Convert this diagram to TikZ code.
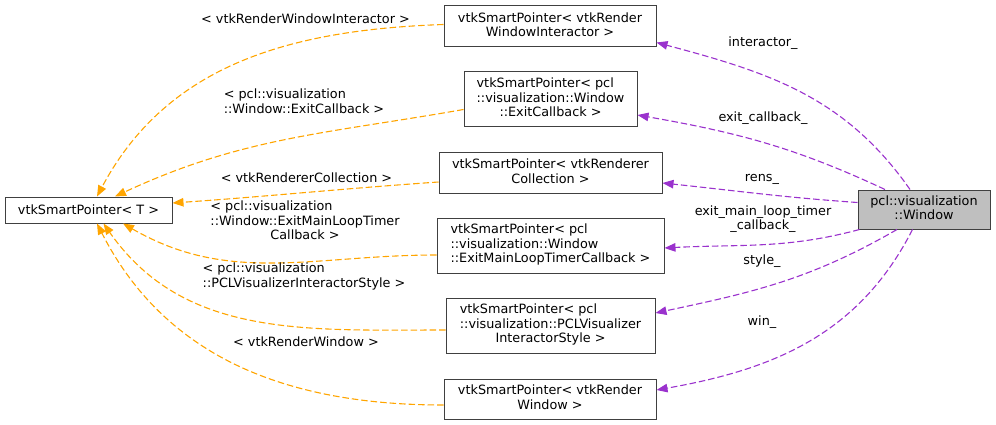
\documentclass[tikz,border=0pt]{standalone}
\usepackage{fontspec}
\setmainfont{DejaVu Sans}
\usetikzlibrary{arrows.meta}

\definecolor{useorange}{HTML}{FFA500}
\definecolor{ptrpurple}{HTML}{9A32CD}
\definecolor{boxgray}{HTML}{BFBFBF}

% left-aligned lines, last one centred
\newcommand{\dotlabel}[2]{\begin{tabular}{@{}l@{}}#1\\\multicolumn{1}{@{}c@{}}{#2}\end{tabular}}

\begin{document}
\begin{tikzpicture}[x=1pt, y=-1pt,
    font=\fontsize{12.8}{14.5}\selectfont,
    classbox/.style={draw=black!75, fill=white, line width=1pt, inner sep=1pt},
    current/.style={classbox, fill=boxgray},
    lbl/.style={inner sep=0pt},
    useedge/.style={draw=useorange, line width=1.1pt, dash pattern=on 6.5pt off 3pt,
        -{Triangle[length=11pt, width=8.5pt, fill=useorange]}},
    ptredge/.style={draw=ptrpurple, line width=1.1pt, dash pattern=on 6.5pt off 3pt,
        -{Triangle[length=11pt, width=8.5pt, fill=ptrpurple]}}]

    \useasboundingbox (0,0) rectangle (996,425);

    % the class boxes
    \node[classbox, minimum width=167pt, minimum height=26pt] (tptr) at (88.5,210) {vtkSmartPointer< T >};
    \node[classbox, minimum width=212pt, minimum height=41pt] (interactor) at (550,26.5)
        {\dotlabel{vtkSmartPointer< vtkRender}{WindowInteractor >}};
    \node[classbox, minimum width=173pt, minimum height=55pt] (exitcb) at (550.5,99.5)
        {\dotlabel{vtkSmartPointer< pcl\\::visualization::Window}{::ExitCallback >}};
    \node[classbox, minimum width=223pt, minimum height=40pt] (rencoll) at (550.5,173)
        {\dotlabel{vtkSmartPointer< vtkRenderer}{Collection >}};
    \node[classbox, minimum width=227pt, minimum height=55pt] (emlt) at (550.5,245.5)
        {\dotlabel{vtkSmartPointer< pcl\\::visualization::Window}{::ExitMainLoopTimerCallback >}};
    \node[classbox, minimum width=209pt, minimum height=55pt] (pclv) at (550.5,325.5)
        {\dotlabel{vtkSmartPointer< pcl\\::visualization::PCLVisualizer}{InteractorStyle >}};
    \node[classbox, minimum width=212pt, minimum height=40pt] (rwin) at (550,399)
        {\dotlabel{vtkSmartPointer< vtkRender}{Window >}};
    \node[current, minimum width=132pt, minimum height=39pt] (window) at (924,209.5)
        {\dotlabel{pcl::visualization}{::Window}};

    % template arguments
    \draw[useedge] ([yshift=2pt]interactor.west) to[out=182,in=62] ([xshift=8.5pt]tptr.north);
    \draw[useedge] ([yshift=-10pt]exitcb.west) to[out=190,in=25] ([xshift=26.5pt]tptr.north);
    \draw[useedge] ([yshift=-9pt]rencoll.west) to[out=184,in=4] ([yshift=7pt]tptr.east);
    \draw[useedge] ([yshift=-9.5pt]emlt.west) to[out=180,in=-30] ([xshift=34.5pt]tptr.south);
    \draw[useedge] ([yshift=-4.5pt]pclv.west) to[out=180,in=-55] ([xshift=15pt]tptr.south);
    \draw[useedge] ([yshift=-6pt]rwin.west) to[out=180,in=-63] ([xshift=8.5pt]tptr.south);

    \node[lbl] (linteractor) at (305.5,18.3) {< vtkRenderWindowInteractor >};
    \node[lbl] (lexitcb) at (304,103.3) {\dotlabel{< pcl::visualization}{::Window::ExitCallback >}};
    \node[lbl] (lrencoll) at (306.5,177.3) {< vtkRendererCollection >};
    \node[lbl] (lemlt) at (305,222.3)
        {\dotlabel{< pcl::visualization\\::Window::ExitMainLoopTimer}{Callback >}};
    \node[lbl] (lpclv) at (304,277.2) {\dotlabel{< pcl::visualization}{::PCLVisualizerInteractorStyle >}};
    \node[lbl] (lrwin) at (306,341.7) {< vtkRenderWindow >};

    % members of the window
    \draw[ptredge] ([xshift=-14pt]window.north) to[out=125,in=-15] ([yshift=-16pt]interactor.east);
    \draw[ptredge] ([xshift=-39pt]window.north) to[out=155,in=-10] ([yshift=-15.5pt]exitcb.east);
    \draw[ptredge] ([yshift=7pt]window.west) to[out=176,in=-6] ([yshift=-10pt]rencoll.east);
    \draw[ptredge] ([xshift=2pt]window.south west) to[out=195,in=3] ([yshift=-2.5pt]emlt.east);
    \draw[ptredge] ([xshift=-27pt]window.south) to[out=-150,in=12] ([yshift=12.5pt]pclv.east);
    \draw[ptredge] ([xshift=-11.5pt]window.south) to[out=-117,in=10] ([yshift=9pt]rwin.east);

    \node[lbl] (linteractorm) at (763,43) {interactor\_};
    \node[lbl] (lexitcbm) at (763,118) {exit\_callback\_};
    \node[lbl] (lrens) at (762,179) {rens\_};
    \node[lbl] (lemltm) at (763,219.5) {\dotlabel{exit\_main\_loop\_timer}{\_callback\_}};
    \node[lbl] (lstyle) at (762,261) {style\_};
    \node[lbl] (lwin) at (762,322) {win\_};

\end{tikzpicture}
\end{document}
